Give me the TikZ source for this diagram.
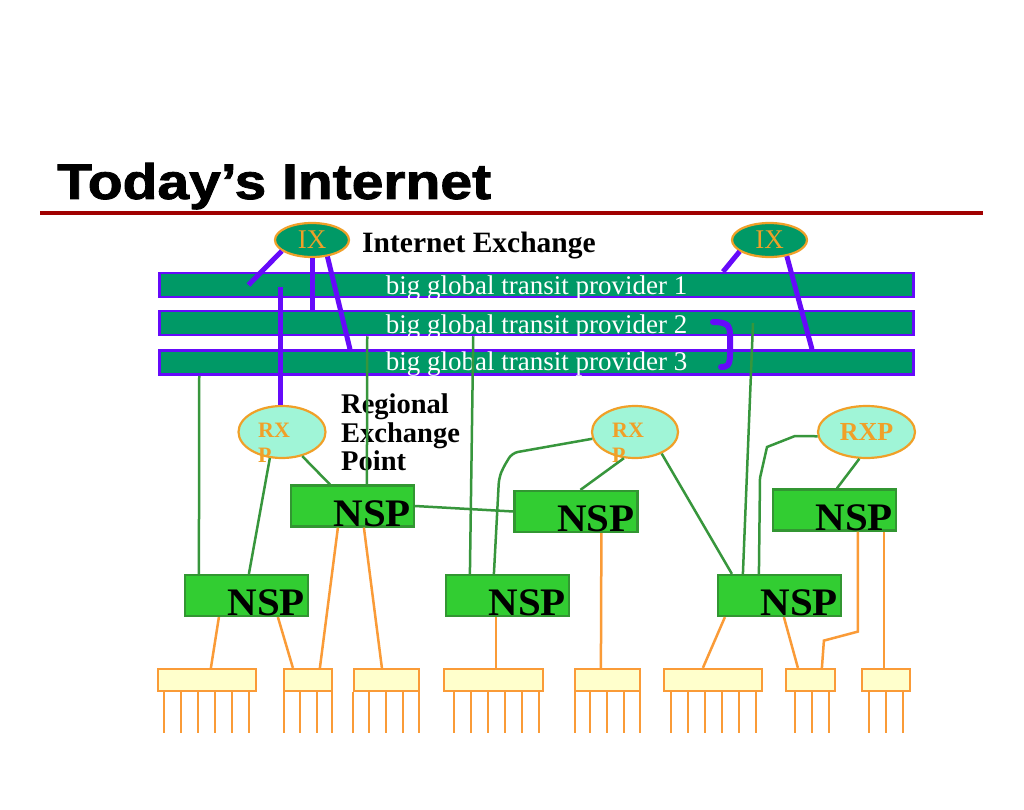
\documentclass[tikz,border=0pt]{standalone}
\usepackage{fontspec}
\setmainfont{Liberation Serif}
\newfontfamily\titlefont[FakeBold=1.6]{Liberation Sans}
\usetikzlibrary{shapes.geometric}
\definecolor{barteal}{RGB}{0,153,102}
\definecolor{purp}{RGB}{102,10,250}
\definecolor{ixorange}{RGB}{240,160,40}
\definecolor{orng}{RGB}{250,155,55}
\definecolor{rxpfill}{RGB}{160,245,215}
\definecolor{nspfill}{RGB}{50,205,50}
\definecolor{nspborder}{RGB}{50,150,50}
\definecolor{lgreen}{RGB}{55,150,60}
\definecolor{leafy}{RGB}{255,255,204}
\definecolor{titlered}{RGB}{160,0,0}
\tikzset{
  bar/.style={draw=purp, line width=2.5pt, fill=barteal, minimum width=754, minimum height=24, inner sep=0pt},
  bartext/.style={text=white, font=\fontsize{27}{28}\selectfont, anchor=base, inner sep=0pt},
  ix/.style={ellipse, draw=ixorange, line width=2.2pt, fill=barteal, inner sep=0pt, text=ixorange, font=\fontsize{27}{28}\selectfont},
  rxp/.style={ellipse, draw=ixorange, line width=2.2pt, fill=rxpfill, inner sep=0pt, text=ixorange, font=\bfseries\fontsize{26}{28}\selectfont},
  rxptext/.style={text=ixorange, font=\bfseries\fontsize{22}{24}\selectfont, anchor=base west, inner sep=0pt},
  nsp/.style={draw=nspborder, fill=nspfill, line width=2.2pt, minimum width=123, minimum height=41, inner sep=0pt},
  nsptext/.style={font=\bfseries\fontsize{39}{40}\selectfont, anchor=base east, inner sep=0pt},
  leaf/.style={draw=orng, fill=leafy, line width=2.2pt, minimum height=22, inner sep=0pt},
  leg/.style={draw=orng, line width=2.4pt},
  gline/.style={draw=lgreen, line width=2.5pt},
  oline/.style={draw=orng, line width=2.5pt},
  pline/.style={draw=purp, line width=5pt},
  blacklabel/.style={font=\bfseries\fontsize{28.5}{28.5}\selectfont, inner sep=0pt}
}
\begin{document}
\begin{tikzpicture}[x=1pt,y=-1pt]
\useasboundingbox (0,0) rectangle (1024,810);
\fill[white] (0,0) rectangle (1024,810);

% title
\node[anchor=base west, inner sep=0pt, font=\titlefont\bfseries\fontsize{50}{52}\selectfont] (title) at (57,199) {\scalebox{1.14}[1]{Today’s Internet}};
\draw[titlered, line width=4pt] (40,213) -- (983,213);

% transit provider bars
\node[bar] (bar1) at (536.5,285) {};
\node[bar] (bar2) at (536.5,323) {};
\node[bar] (bar3) at (536.5,362.5) {};
\node[bartext] (t1) at ([yshift=-9pt]bar1.center) {big global transit provider 1};
\node[bartext] (t2) at ([yshift=-10pt]bar2.center) {big global transit provider 2};
\node[bartext] (t3) at ([yshift=-7.5pt]bar3.center) {big global transit provider 3};

% exchanges
\node[ix, minimum width=74, minimum height=34] (ix1) at (312,240) {IX};
\node[ix, minimum width=75, minimum height=34] (ix2) at (769.5,240) {IX};
\node[anchor=base west, inner sep=0pt, font=\bfseries\fontsize{29.5}{30}\selectfont] (ixlabel) at (362,252) {Internet Exchange};

\node[rxp, minimum width=87, minimum height=52] (rxp1) at (282,432) {};
\node[rxp, minimum width=86, minimum height=52] (rxp2) at (635,432) {};
\node[rxp, minimum width=97, minimum height=52] (rxp3) at (866.5,432) {RXP};
\node[rxptext] (r1a) at (258,437) {RX};
\node[rxptext] (r1b) at (258,462) {P};
\node[rxptext] (r2a) at (612,437) {RX};
\node[rxptext] (r2b) at (612,462) {P};
\node[blacklabel, anchor=north west, align=left] (rxplabel) at (341,394) {Regional\\Exchange\\Point};

% NSP boxes
\node[nsp] (nspA) at (352.5,506) {};
\node[nsp] (nspB) at (576,511.5) {};
\node[nsp] (nspC) at (834.5,510) {};
\node[nsp] (nspD) at (246.5,595.5) {};
\node[nsp] (nspE) at (507.5,595.5) {};
\node[nsp] (nspF) at (779.5,595.5) {};
\foreach \n in {nspA,nspB,nspC,nspD,nspE,nspF}
  \node[nsptext] (\n-t) at ([xshift=-4pt,yshift=1.5pt]\n.south east) {\scalebox{1.05}[1]{NSP}};

% leaf boxes
\node[leaf, minimum width=98] (b1) at (207,680) {};
\node[leaf, minimum width=48] (b2) at (308,680) {};
\node[leaf, minimum width=65] (b3) at (386.5,680) {};
\node[leaf, minimum width=99] (b4) at (493.5,680) {};
\node[leaf, minimum width=65] (b5) at (607.5,680) {};
\node[leaf, minimum width=98] (b6) at (713,680) {};
\node[leaf, minimum width=49] (b7) at (810.5,680) {};
\node[leaf, minimum width=48] (b8) at (886,680) {};
\foreach \x in {164,181,198,215,232,249, 284,300,317,332, 353,369,386,403,419, 454,471,488,505,522,539, 575,590,607,624,640, 671,688,705,722,739,756, 795,812,829, 869,886,903}
  \draw[leg] (\x,692) -- (\x,733);

% green links
\draw[gline] ([xshift=41pt]bar3.south west) -- ([xshift=15pt]nspD.north west);
\draw[gline] ([xshift=209pt]bar2.south west) -- ([xshift=77pt]nspA.north west);
\draw[gline] ([xshift=315pt]bar2.south west) -- ([xshift=25pt]nspE.north west);
\draw[gline] ([xshift=216.5pt]bar2.center) -- ([xshift=26pt]nspF.north west);
\draw[gline] (rxp1.-50) -- ([xshift=40pt]nspA.north west);
\draw[gline] (rxp1.-115) -- ([xshift=65pt]nspD.north west);
\draw[gline] (nspA.east) -- (nspB.west);
\draw[gline, rounded corners=6pt] (rxp2.189) -- (512,453) -- (503,468) -- (499,478) -- ([xshift=49pt]nspE.north west);
\draw[gline] (rxp2.-113) -- ([xshift=67pt]nspB.north west);
\draw[gline] (rxp2.-39) -- ([xshift=15pt]nspF.north west);
\draw[gline] (rxp3.185) -- (795,436) -- (767,447) -- (760,478) -- ([xshift=42pt]nspF.north west);
\draw[gline] (rxp3.-105) -- ([xshift=65pt]nspC.north west);

% orange links
\draw[oline] ([xshift=35pt]nspD.south west) -- ([xshift=54pt]b1.north west);
\draw[oline] ([xshift=94pt]nspD.south west) -- ([xshift=10pt]b2.north west);
\draw[oline] ([xshift=48pt]nspA.south west) -- ([xshift=37pt]b2.north west);
\draw[oline] ([xshift=74pt]nspA.south west) -- ([xshift=29pt]b3.north west);
\draw[oline] ([xshift=51pt]nspE.south west) -- ([xshift=53pt]b4.north west);
\draw[oline] ([xshift=88pt]nspB.south west) -- ([xshift=27pt]b5.north west);
\draw[oline] ([xshift=8pt]nspF.south west) -- ([xshift=40pt]b6.north west);
\draw[oline] ([xshift=67pt]nspF.south west) -- ([xshift=13pt]b7.north west);
\draw[oline] ([xshift=86pt]nspC.south west) -- ++(0,100) -- ++(-34,9) -- ([xshift=37pt]b7.north west);
\draw[oline] ([xshift=112pt]nspC.south west) -- ([xshift=23pt]b8.north west);

% purple links
\draw[pline] (ix1.200) -- ([xshift=-288pt]bar1.center);
\draw[pline] ([xshift=-256.5pt,yshift=-2pt]bar1.center) -- ([xshift=-2pt]rxp1.north);
\draw[pline] (ix1.south) -- (ix1.south |- bar2.north);
\draw[pline] (ix1.-47) -- ([xshift=-186.5pt]bar3.north);
\draw[pline] (ix2.201) -- ([xshift=186.5pt]bar1.north);
\draw[pline] (ix2.-43) -- ([xshift=275.5pt]bar3.north);
\draw[purp, line width=6pt, line cap=round] (713,322) .. controls (731,322) and (730,328) .. (730,340) -- (730,354) .. controls (730,366) and (727,367) .. (721,367);
\end{tikzpicture}
\end{document}
